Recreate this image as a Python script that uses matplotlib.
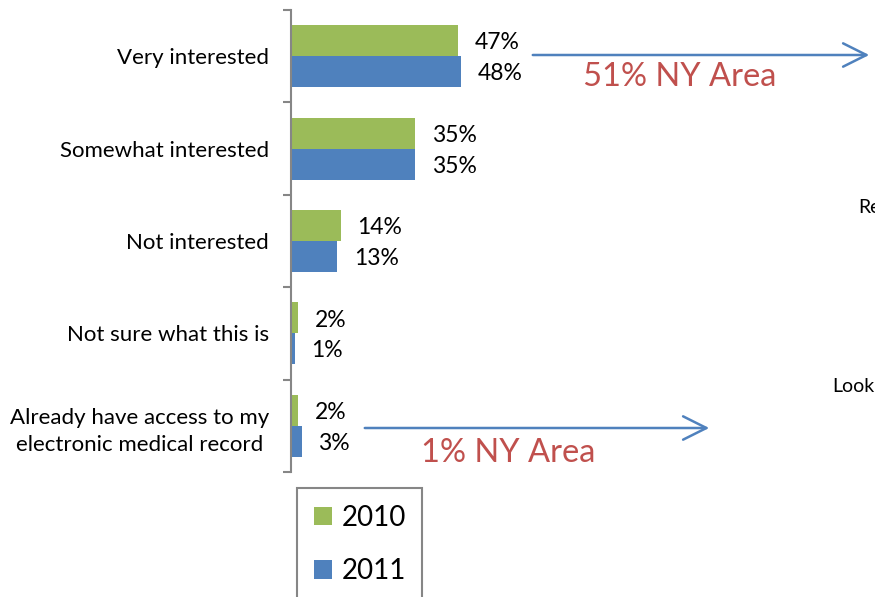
import matplotlib.pyplot as plt
from matplotlib.patches import FancyArrowPatch
import numpy as np

plt.rcParams['font.family'] = ['Lato', 'DejaVu Sans']

categories = ["Very interested", "Somewhat interested", "Not interested",
              "Not sure what this is",
              "Already have access to my\nelectronic medical record"]
values_2010 = [47, 35, 14, 2, 2]
values_2011 = [48, 35, 13, 1, 3]
series_names = ["2010", "2011"]
notes = ["51% NY Area", "1% NY Area"]

green = "#9BBB59"
blue = "#4F81BD"
red = "#C0504D"
gray = "#868686"

fig = plt.figure(figsize=(8.75, 5.97), dpi=100)
ax = fig.add_axes([291 / 875, 125 / 597, 355 / 875, 462 / 597])

y = np.arange(len(categories))
h = 0.335
b1 = ax.barh(y - h / 2, values_2010, height=h, color=green, label=series_names[0])
b2 = ax.barh(y + h / 2, values_2011, height=h, color=blue, label=series_names[1])

for bars, vals in ((b1, values_2010), (b2, values_2011)):
    for bar, v in zip(bars, vals):
        ax.annotate(f"{v}%", (bar.get_width(), bar.get_y() + bar.get_height() / 2),
                    xytext=(12, -1.5), textcoords="offset points",
                    ha="left", va="center", fontsize=16.5)

ax.set_xlim(0, 100)
ax.set_ylim(len(categories) - 0.5, -0.5)
ax.set_yticks(np.arange(len(categories) + 1) - 0.5)
ax.set_yticklabels([])
ax.set_yticks(y, minor=True)
ax.set_yticklabels(categories, minor=True, fontsize=16, ha="right",
                   multialignment="center", linespacing=1.45)
ax.tick_params(axis="y", which="major", length=6, color=gray, width=1.5)
ax.tick_params(axis="y", which="minor", length=0, pad=16)
ax.set_xticks([])
for s in ("top", "right", "bottom"):
    ax.spines[s].set_visible(False)
ax.spines["left"].set_color(gray)
ax.spines["left"].set_linewidth(1.5)

# arrows with NY area notes
arrow_kw = dict(arrowstyle="->,head_length=1.2,head_width=0.6", color=blue, lw=1.8)
fig.add_artist(FancyArrowPatch(
    (530 / 875, 1 - 55 / 597), (872 / 875, 1 - 55 / 597),
    transform=fig.transFigure, mutation_scale=14, **arrow_kw))
fig.add_artist(FancyArrowPatch(
    (362 / 875, 1 - 428 / 597), (712 / 875, 1 - 428 / 597),
    transform=fig.transFigure, mutation_scale=14, **arrow_kw))
fig.text(583 / 875, 1 - 77 / 597, notes[0], color=red, fontsize=23.5, va="center")
fig.text(421 / 875, 1 - 453 / 597, notes[1], color=red, fontsize=23.5, va="center")

# cut-off text from neighbouring chart
fig.text(858 / 875, 1 - 207 / 597, "Re", fontsize=14, va="center")
fig.text(832 / 875, 1 - 386 / 597, "Look", fontsize=14, va="center")

leg = fig.legend(handles=[b1, b2], loc="upper left",
                 bbox_to_anchor=(297 / 875, 1 - 488 / 597),
                 fontsize=20, handlelength=0.65, handleheight=0.65,
                 labelspacing=1.0, handletextpad=0.35, borderpad=0.6,
                 borderaxespad=0, fancybox=False, edgecolor=gray, framealpha=1)
leg.get_frame().set_linewidth(1.5)

fig.savefig("out.png", dpi=100)
